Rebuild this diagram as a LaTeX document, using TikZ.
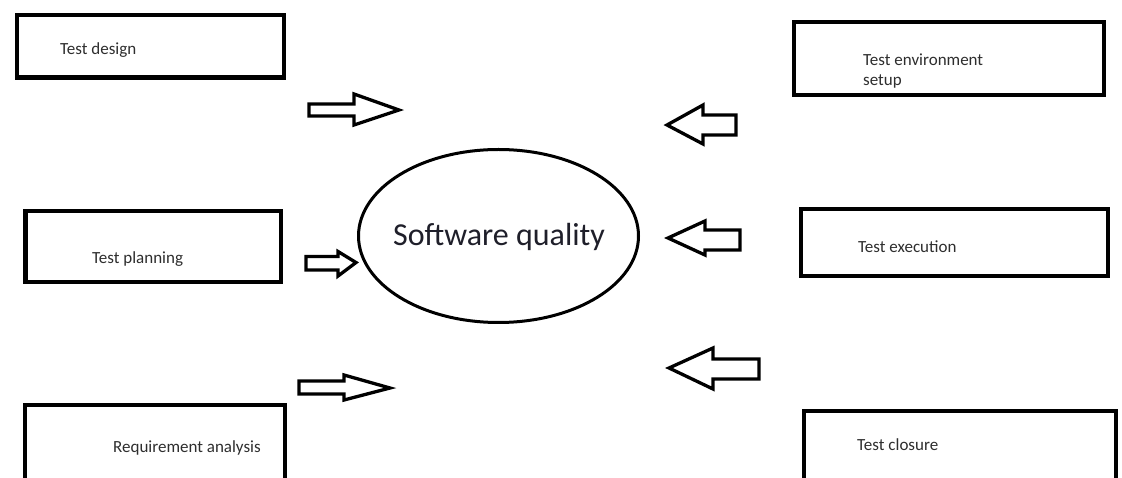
\documentclass[tikz,border=0pt]{standalone}
\usepackage{fontspec}
\setmainfont{Carlito}
\usetikzlibrary{shapes.geometric}
\definecolor{labelgray}{HTML}{2E2E2E}
\definecolor{titleink}{HTML}{1F1F2A}
\begin{document}
\begin{tikzpicture}[x=1pt,y=-1pt,
  box/.style={draw=black, line width=4.5pt, inner sep=0pt},
  hub/.style={draw=black, line width=3pt, ellipse, inner sep=0pt},
  lbl/.style={anchor=base west, inner sep=0pt, text=labelgray, font=\fontsize{17}{20}\selectfont},
  blockarrow/.style={draw=black, line width=3.3pt, line join=miter, fill=white}
]
\useasboundingbox (0,0) rectangle (1122,478);
\clip (0,0) rectangle (1122,478);
\fill[white] (0,0) rectangle (1122,478);

% process boxes
\node[box, minimum width=267pt, minimum height=62.5pt] (design) at (150.5,46.25) {};
\node[box, minimum width=310pt, minimum height=73pt]   (envsetup) at (949,58.5) {};
\node[box, minimum width=255.5pt, minimum height=71pt] (planning) at (153.25,246.5) {};
\node[box, minimum width=307pt, minimum height=67pt]   (execution) at (954.5,242.5) {};
\node[box, minimum width=260pt, minimum height=110pt]  (reqanalysis) at (155,460) {};
\node[box, minimum width=312pt, minimum height=110pt]  (closure) at (960,466) {};

% labels
\node[lbl] (tdlabel) at (60,55) {Test design};
\node[lbl] (envlabel1) at (863,66) {Test environment};
\node[lbl] (envlabel2) at (863,86) {setup};
\node[lbl] (tplabel) at (92,264) {Test planning};
\node[lbl] (telabel) at (858,253) {Test execution};
\node[lbl] (ralabel) at (113,452) {Requirement analysis};
\node[lbl] (tclabel) at (857,450) {Test closure};

% central ellipse
\node[hub, minimum width=280pt, minimum height=173pt] (quality) at (498.5,236) {};
\node[anchor=base, inner sep=0pt, text=titleink, font=\fontsize{32}{38}\selectfont] (qlabel) at (499,246) {Software quality};

% block arrows pointing toward the ellipse
\draw[blockarrow] (309,104) -- (354,104) -- (354,94) -- (399,110) -- (354,125) -- (354,116) -- (309,116) -- cycle;
\draw[blockarrow] (736,115) -- (703,115) -- (703,105) -- (667,125) -- (703,144) -- (703,135) -- (736,135) -- cycle;
\draw[blockarrow] (306,256.5) -- (338,256.5) -- (338,251.5) -- (356,262.5) -- (338,276) -- (338,270) -- (306,270) -- cycle;
\draw[blockarrow] (740,230) -- (705,230) -- (705,221) -- (668,238) -- (705,255) -- (705,250) -- (740,250) -- cycle;
\draw[blockarrow] (299,381) -- (344,381) -- (344,375) -- (390,388) -- (344,400) -- (344,394) -- (299,394) -- cycle;
\draw[blockarrow] (759,359) -- (713,359) -- (713,348) -- (669,368) -- (713,389) -- (713,379) -- (759,379) -- cycle;
\end{tikzpicture}
\end{document}
